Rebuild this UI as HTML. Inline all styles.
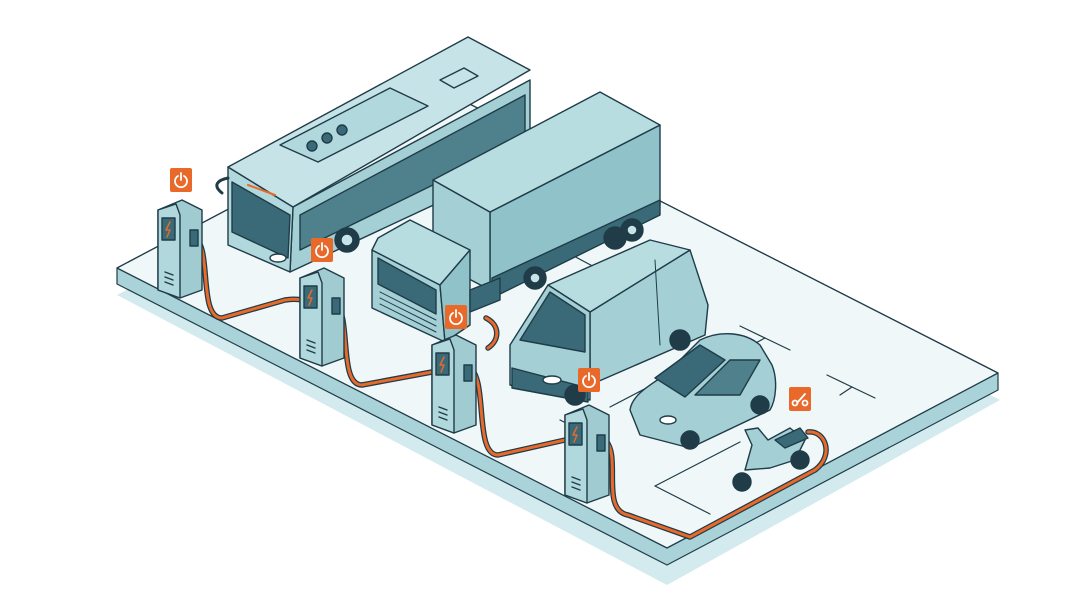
<!DOCTYPE html>
<html><head><meta charset="utf-8"><style>
html,body{margin:0;padding:0;background:#fff;}
svg{display:block;}
</style></head><body>
<svg width="1080" height="602" viewBox="0 0 1080 602" xmlns="http://www.w3.org/2000/svg" stroke-linejoin="round" stroke-linecap="round">
<!-- platform shadow -->
<polygon points="117,295 448,120 1000,400 667,585" fill="#d3eaee"/>
<polygon points="117,268 448,93 998,373 998,390 667,565 117,284" fill="#a9d3d9" stroke="#1f3c48" stroke-width="1.2"/>
<polygon points="117,268 448,93 998,373 667,548" fill="#f0f7f8" stroke="#1f3c48" stroke-width="1.3"/>
<!-- parking lines -->
<g stroke="#1f3c48" stroke-width="1.2" fill="none">
<line x1="740" y1="326" x2="765" y2="338"/>
<line x1="752" y1="345" x2="765" y2="338"/>
<line x1="765" y1="338" x2="790" y2="350"/>
<line x1="827" y1="375" x2="852" y2="387"/>
<line x1="852" y1="387" x2="875" y2="398"/>
<line x1="840" y1="395" x2="852" y2="387"/>
<line x1="655" y1="486" x2="740" y2="442"/>
<line x1="655" y1="486" x2="710" y2="514"/>
<line x1="700" y1="360" x2="610" y2="407"/>
<line x1="560" y1="420" x2="600" y2="440"/>
<line x1="540" y1="238" x2="600" y2="270"/>
</g>
<!-- BUS -->
<g stroke="#1f3c48" stroke-width="1.4">
<polygon points="293,207 530,80 530,160 290,272" fill="#a3cfd5"/>
<polygon points="228,167 293,207 290,272 228,245" fill="#b1d8dc"/>
<polygon points="228,167 468,37 530,70 293,207" fill="#c6e4e7"/>
<polygon points="232,182 290,215 288,258 232,232" fill="#3a6a77"/>
<polygon points="300,215 525,95 525,140 300,250" fill="#4f818d"/>
<polygon points="440,80 464,68 478,76 454,88" fill="#c6e4e7"/>
<polygon points="280,145 390,88 428,106 318,162" fill="#b1d8dc"/>
<circle cx="312" cy="146" r="5" fill="#3a6a77"/><circle cx="327" cy="138" r="5" fill="#3a6a77"/><circle cx="342" cy="130" r="5" fill="#3a6a77"/>
<circle cx="347" cy="240" r="12" fill="#1f3c48"/><circle cx="347" cy="240" r="6" fill="#c6e4e7"/>
<line x1="248" y1="185" x2="275" y2="195" stroke="#e8692a" stroke-width="2"/>
<path d="M222,193 C212,185 218,180 228,178" fill="none" stroke-width="3"/>
<ellipse cx="278" cy="258" rx="8" ry="4" fill="#fff"/>
</g>
<!-- TRUCK -->
<g stroke="#1f3c48" stroke-width="1.4">
<polygon points="490,212 660,125 660,205 490,290" fill="#8fc3c9"/>
<polygon points="433,180 490,212 490,290 433,260" fill="#a3cfd5"/>
<polygon points="433,180 600,92 660,125 490,212" fill="#b8dde1"/>
<polygon points="492,278 660,200 660,215 492,298" fill="#3a6a77"/>
<circle cx="535" cy="278" r="11" fill="#1f3c48"/><circle cx="535" cy="278" r="5" fill="#c6e4e7"/>
<circle cx="615" cy="238" r="11" fill="#1f3c48"/><circle cx="632" cy="230" r="11" fill="#1f3c48"/><circle cx="632" cy="230" r="5" fill="#c6e4e7"/>
<polygon points="372,250 440,285 445,342 372,308" fill="#a3cfd5"/>
<polygon points="378,238 410,220 470,250 440,285 372,250" fill="#b8dde1"/>
<polygon points="440,285 470,250 470,325 445,342" fill="#8fc3c9"/>
<polygon points="378,258 436,290 436,314 378,284" fill="#3a6a77"/>
<g stroke-width="1"><line x1="380" y1="292" x2="436" y2="320"/><line x1="380" y1="298" x2="436" y2="326"/><line x1="380" y1="304" x2="436" y2="332"/></g>
<polygon points="470,290 500,278 500,300 470,312" fill="#3a6a77"/>
</g>
<!-- VAN -->
<g stroke="#1f3c48" stroke-width="1.4">
<polygon points="590,312 690,250 708,305 705,335 590,385" fill="#a3cfd5"/>
<polygon points="548,285 650,240 690,250 590,312" fill="#b8dde1"/>
<polygon points="510,345 548,285 590,312 590,400 510,385" fill="#a3cfd5"/>
<polygon points="520,340 550,292 585,315 585,352" fill="#3a6a77"/>
<polygon points="512,368 588,388 588,402 512,388" fill="#3a6a77"/>
<ellipse cx="552" cy="380" rx="9" ry="4" fill="#fff"/>
<circle cx="575" cy="395" r="10" fill="#1f3c48"/><circle cx="680" cy="340" r="10" fill="#1f3c48"/>
<line x1="655" y1="260" x2="660" y2="345" stroke-width="1"/>
</g>
<!-- CAR -->
<g stroke="#1f3c48" stroke-width="1.4">
<path d="M630,410 C632,395 650,385 665,375 L700,340 C720,330 745,332 760,345 L772,365 C778,380 776,400 770,410 L690,448 L640,435 Z" fill="#a3cfd5"/>
<polygon points="655,378 700,345 725,360 685,397" fill="#3a6a77"/>
<polygon points="695,395 730,360 760,360 740,395" fill="#4f818d"/>
<ellipse cx="668" cy="420" rx="8" ry="4" fill="#fff"/>
<circle cx="690" cy="440" r="9" fill="#1f3c48"/><circle cx="760" cy="405" r="9" fill="#1f3c48"/>
</g>
<!-- SCOOTER -->
<g stroke="#1f3c48" stroke-width="1.4">
<path d="M745,430 L752,445 L745,470 L770,468 L795,460 L805,440 L790,428 L768,440 L758,428 Z" fill="#a3cfd5"/>
<path d="M775,440 L800,428 L808,438 L785,448 Z" fill="#3a6a77"/>
<circle cx="742" cy="482" r="9" fill="#1f3c48"/><circle cx="800" cy="460" r="9" fill="#1f3c48"/>
</g>
<!-- CABLES -->
<g fill="none" stroke="#1f3c48" stroke-width="5.5">
<path d="M195,238 C212,248 198,318 222,318 L285,300 C295,298 300,300 305,300"/>
<path d="M335,303 C352,315 338,385 362,385 L432,372"/>
<path d="M470,368 C488,380 474,455 498,455 L565,440"/>
<path d="M605,440 C622,455 600,510 628,515 L690,537 L815,470 C835,455 825,430 808,432"/>
<path d="M486,318 C500,325 500,340 488,348"/>
</g>
<g fill="none" stroke="#e8692a" stroke-width="3">
<path d="M195,238 C212,248 198,318 222,318 L285,300 C295,298 300,300 305,300"/>
<path d="M335,303 C352,315 338,385 362,385 L432,372"/>
<path d="M470,368 C488,380 474,455 498,455 L565,440"/>
<path d="M605,440 C622,455 600,510 628,515 L690,537 L815,470 C835,455 825,430 808,432"/>
<path d="M486,318 C500,325 500,340 488,348"/>
</g>
<!-- CHARGERS -->
<g stroke="#1f3c48" stroke-width="1.4">
<g id="ch">
<polygon points="158,210 182,200 202,210 202,290 180,298 158,290" fill="#9fcbd1"/>
<polygon points="158,210 176,204 180,215 180,298 158,290" fill="#b1d8dc"/>
<rect x="162" y="218" width="13" height="22" fill="#3a6a77"/>
<path d="M170,222 L166,230 L170,230 L167,237" fill="none" stroke="#e8692a" stroke-width="1.5"/>
<rect x="190" y="230" width="8" height="16" fill="#3a6a77"/>
<line x1="165" y1="272" x2="173" y2="275"/><line x1="165" y1="277" x2="173" y2="280"/><line x1="165" y1="282" x2="173" y2="285"/>
</g>
<use href="#ch" x="142" y="68"/>
<use href="#ch" x="274" y="135"/>
<use href="#ch" x="407" y="205"/>
</g>
<!-- ICONS -->
<g>
<rect x="170" y="168" width="22" height="24" rx="2" fill="#e8692a"/>
<rect x="311" y="238" width="22" height="24" rx="2" fill="#e8692a"/>
<rect x="445" y="305" width="22" height="24" rx="2" fill="#e8692a"/>
<rect x="578" y="368" width="22" height="24" rx="2" fill="#e8692a"/>
<rect x="789" y="387" width="22" height="24" rx="2" fill="#e8692a"/>
<g fill="none" stroke="#fff" stroke-width="1.8">
<path d="M178,176 A6,6 0 1 0 184,176"/><line x1="181" y1="173" x2="181" y2="180"/>
<path d="M319,246 A6,6 0 1 0 325,246"/><line x1="322" y1="243" x2="322" y2="250"/>
<path d="M453,313 A6,6 0 1 0 459,313"/><line x1="456" y1="310" x2="456" y2="317"/>
<path d="M586,376 A6,6 0 1 0 592,376"/><line x1="589" y1="373" x2="589" y2="380"/>
<circle cx="795" cy="403" r="2.5"/><circle cx="805" cy="403" r="2.5"/><line x1="797" y1="403" x2="805" y2="394"/>
</g>
</g>
</svg>
</body></html>
